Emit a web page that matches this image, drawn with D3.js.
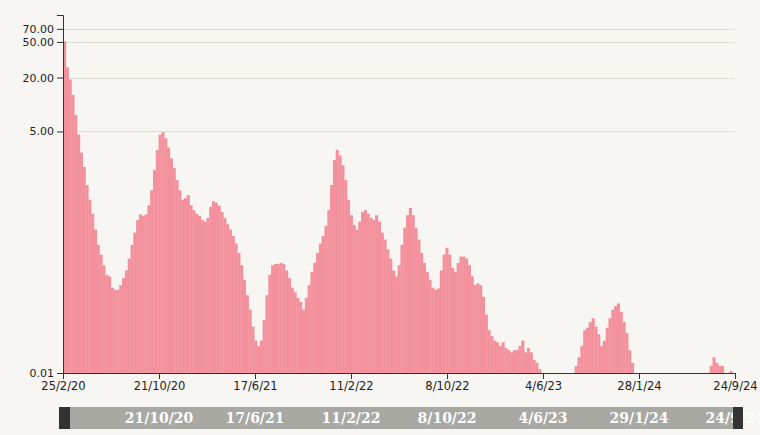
<!DOCTYPE html>
<html>
<head>
<meta charset="utf-8">
<script src="https://cdn.jsdelivr.net/npm/d3@7"></script>
<style>
  body { margin: 0; background: #f8f6f2; }
  text { font-family: "DejaVu Sans", sans-serif; }
</style>
</head>
<body>
<div id="graph"></div>
<script>
// weekly values, first week starts 25/2/20 (log scale, 0 = nothing drawn)
const startDate = "2020-02-25"
const endDate = "2024-09-24"
const weeklyValues = [
  51, 26, 19, 12.8, 7.6, 4.6, 2.9, 2.0, 1.26, 0.86,
  0.6, 0.4, 0.27, 0.21, 0.16, 0.125, 0.12, 0.09, 0.085, 0.085,
  0.096, 0.115, 0.14, 0.19, 0.27, 0.37, 0.51, 0.59, 0.57, 0.59,
  0.75, 1.1, 1.85, 3.1, 4.6, 4.9, 4.2, 3.3, 2.5, 1.95,
  1.43, 1.1, 0.86, 0.9, 0.97, 0.75, 0.66, 0.6, 0.57, 0.51,
  0.49, 0.54, 0.72, 0.83, 0.8, 0.74, 0.63, 0.54, 0.46, 0.4,
  0.34, 0.28, 0.22, 0.16, 0.11, 0.074, 0.051, 0.033, 0.023, 0.02,
  0.023, 0.039, 0.074, 0.125, 0.16, 0.165, 0.165, 0.17, 0.165, 0.14,
  0.115, 0.09, 0.08, 0.069, 0.062, 0.051, 0.069, 0.096, 0.135, 0.17,
  0.22, 0.28, 0.34, 0.44, 0.66, 1.26, 2.4, 3.1, 2.7, 2.1,
  1.43, 0.86, 0.58, 0.45, 0.4, 0.49, 0.63, 0.66, 0.6, 0.54,
  0.51, 0.58, 0.49, 0.37, 0.31, 0.24, 0.19, 0.14, 0.12, 0.16,
  0.27, 0.42, 0.58, 0.7, 0.58, 0.42, 0.31, 0.22, 0.17, 0.135,
  0.11, 0.09, 0.085, 0.088, 0.14, 0.21, 0.25, 0.21, 0.15, 0.135,
  0.17, 0.2, 0.2, 0.19, 0.16, 0.12, 0.096, 0.1, 0.096, 0.071,
  0.045, 0.03, 0.026, 0.023, 0.022, 0.02, 0.022, 0.019, 0.018, 0.017,
  0.018, 0.018, 0.02, 0.023, 0.017, 0.019, 0.017, 0.014, 0.013, 0.011,
  0, 0, 0, 0, 0, 0, 0, 0, 0, 0,
  0, 0, 0.012, 0.015, 0.02, 0.03, 0.032, 0.037, 0.041, 0.033,
  0.027, 0.02, 0.023, 0.032, 0.041, 0.051, 0.056, 0.06, 0.048, 0.037,
  0.028, 0.018, 0.013, 0, 0, 0, 0, 0, 0, 0,
  0, 0, 0, 0, 0, 0, 0, 0, 0, 0,
  0, 0, 0, 0, 0, 0, 0, 0, 0, 0,
  0.012, 0.015, 0.013, 0.012, 0.012, 0, 0, 0.0105, 0
]

const yTickValues = [0.01, 5, 20, 50, 70]
const gridValues = [5, 20, 50, 70]
const xTickDates = ["2020-02-25", "2020-10-21", "2021-06-17", "2022-02-11", "2022-10-08", "2023-06-04", "2024-01-29", "2024-09-24"]
const xTickLabels = ["25/2/20", "21/10/20", "17/6/21", "11/2/22", "8/10/22", "4/6/23", "28/1/24", "24/9/24"]
const brushLabels = ["", "21/10/20", "17/6/21", "11/2/22", "8/10/22", "4/6/23", "29/1/24", "24/9/24"]

const width = 760
const height = 435
const margin = { top: 15, right: 24, bottom: 62, left: 63 }

const parse = d3.utcParse("%Y-%m-%d")
const t0 = parse(startDate)
const t1 = parse(endDate)

const graph = d3.select("#graph").append("svg")
  .attr("width", width)
  .attr("height", height)

graph.append("rect")
  .attr("width", width)
  .attr("height", height)
  .attr("fill", "#f8f6f2")

const xScale = d3.scaleUtc()
  .domain([t0, t1])
  .range([margin.left, width - margin.right - 1])

const yScale = d3.scaleLog()
  .domain([0.01, 100])
  .range([height - margin.bottom, margin.top])

// gridlines
graph.append("g")
  .selectAll("line")
  .data(gridValues)
  .enter()
  .append("line")
  .attr("x1", margin.left)
  .attr("x2", xScale(t1))
  .attr("y1", d => Math.round(yScale(d)) + 0.5)
  .attr("y2", d => Math.round(yScale(d)) + 0.5)
  .attr("stroke", "#e0ddd7")
  .attr("stroke-width", 1)

// bars, one per week
const weeks = weeklyValues.map((v, i) => ({
  start: d3.utcDay.offset(t0, 7 * i),
  end: d3.utcDay.offset(t0, 7 * (i + 1)),
  value: v
}))

graph.append("g")
  .selectAll("rect")
  .data(weeks.filter(d => d.value > 0.01))
  .enter()
  .append("rect")
  .attr("x", d => xScale(d.start))
  .attr("width", d => xScale(d.end) - xScale(d.start) + 0.3)
  .attr("y", d => yScale(d.value))
  .attr("height", d => yScale(0.01) - yScale(d.value))
  .attr("fill", "#f3919d")

// Y-AXIS
const yAxis = graph.append("g")
  .attr("transform", "translate(" + margin.left + ",0)")
  .call(d3.axisLeft(yScale).tickValues(yTickValues).tickFormat(d3.format(".2f")))
yAxis.selectAll("text").attr("font-size", 11).attr("fill", "#222")
yAxis.selectAll("path, line").attr("stroke", "#333")

// X-AXIS
const xAxis = graph.append("g")
  .attr("transform", "translate(0," + yScale(0.01) + ")")
  .call(d3.axisBottom(xScale)
    .tickValues(xTickDates.map(parse))
    .tickFormat((d, i) => xTickLabels[i]))
xAxis.selectAll("text").attr("font-size", 11.5).attr("fill", "#222")
xAxis.selectAll("path, line").attr("stroke", "#333")

// brush strip under the chart
const brushY = 407
const brushH = 22
graph.append("rect")
  .attr("x", 70)
  .attr("y", brushY)
  .attr("width", 663)
  .attr("height", brushH)
  .attr("fill", "#a9a9a4")

graph.append("g")
  .selectAll("text")
  .data(xTickDates)
  .enter()
  .append("text")
  .attr("x", d => xScale(parse(d)))
  .attr("y", brushY + 16)
  .attr("text-anchor", "middle")
  .attr("fill", "#ffffff")
  .style("font-family", "'DejaVu Serif', serif")
  .style("font-weight", "bold")
  .attr("font-size", 14)
  .text((d, i) => brushLabels[i])

graph.append("rect")
  .attr("x", 59).attr("y", brushY)
  .attr("width", 11).attr("height", brushH)
  .attr("fill", "#333333")
graph.append("rect")
  .attr("x", 733).attr("y", brushY)
  .attr("width", 10).attr("height", brushH)
  .attr("fill", "#333333")
</script>
</body>
</html>
